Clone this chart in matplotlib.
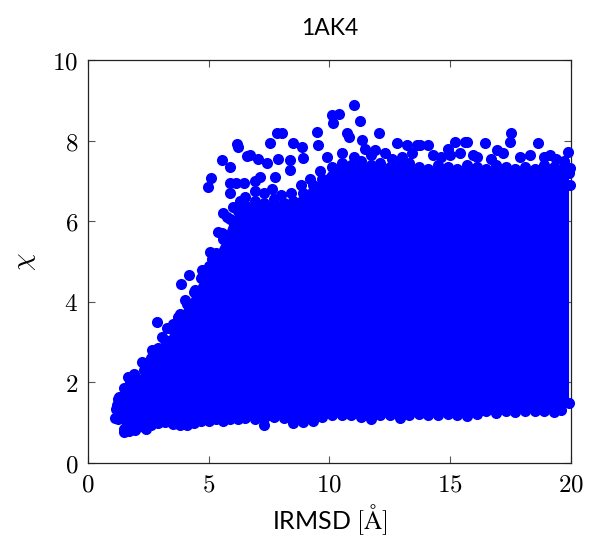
import matplotlib
matplotlib.use("Agg")
import matplotlib.pyplot as plt

plt.rcParams['mathtext.fontset'] = 'cm'
plt.rcParams['font.family'] = ['Lato', 'DejaVu Sans']

# Dense core of the decoy cloud: x positions with lower / upper extent of chi
env_x = [1.25, 1.5, 1.75, 2.0, 2.3, 2.6, 2.9, 3.2, 3.5, 3.8, 4.1, 4.4, 4.7, 5.0,
         5.3, 5.6, 5.9, 6.2, 6.5, 6.9, 7.3, 7.7, 8.1, 8.5, 8.9, 9.3, 9.7, 10.1,
         10.5, 10.9, 11.3, 11.7, 12.1, 12.5, 12.9, 13.3, 13.7, 14.1, 14.5, 14.9,
         15.3, 15.7, 16.1, 16.5, 16.9, 17.3, 17.7, 18.1, 18.5, 18.9, 19.3, 19.6, 19.9]
env_hi = [1.6, 1.85, 2.0, 2.1, 2.3, 2.6, 2.85, 3.05, 3.3, 3.7, 3.95, 4.25, 4.6, 4.9,
          5.2, 5.55, 6.05, 6.25, 6.4, 6.5, 6.45, 6.55, 6.45, 6.5, 6.7, 6.9, 7.05, 7.35,
          7.45, 7.4, 7.5, 7.4, 7.45, 7.35, 7.4, 7.45, 7.35, 7.3, 7.4, 7.35,
          7.3, 7.4, 7.35, 7.3, 7.4, 7.35, 7.3, 7.35, 7.3, 7.4, 7.35, 7.3, 7.2]
env_lo = [1.1, 0.85, 0.95, 0.88, 0.9, 0.95, 1.0, 1.02, 0.98, 0.94, 0.95, 1.0, 1.03, 1.05,
          1.08, 1.05, 1.08, 1.1, 1.12, 1.1, 0.95, 1.15, 1.12, 1.0, 1.02, 1.05, 1.15, 1.2,
          1.18, 1.2, 1.15, 1.1, 1.2, 1.18, 1.12, 1.2, 1.22, 1.2, 1.18, 1.22,
          1.2, 1.16, 1.22, 1.28, 1.25, 1.3, 1.27, 1.3, 1.28, 1.3, 1.27, 1.32, 1.5]

# Individual decoys lying outside the dense core
pts_x = [1.12, 1.5, 1.15, 1.7, 1.95, 2.4, 2.25, 2.84, 3.26, 3.74, 3.85, 4.19, 5.05, 5.37,
         4.96, 5.1, 5.54, 5.88, 6.16, 6.21, 6.6, 5.88, 6.13, 5.88, 7.05, 7.4, 7.12, 7.74,
         7.54, 7.81, 8.05, 8.5, 8.85, 8.36, 8.92, 8.36, 7.88, 6.71, 9.5, 9.54,
         10.09, 10.41, 10.13, 11.01, 11.26, 10.71, 10.79, 11.33, 11.47, 12.05, 11.88,
         12.78, 13.2, 13.61, 13.75, 14.09, 14.27, 14.92, 15.2, 15.61, 15.68, 15.95,
         16.44, 16.92, 17.52, 17.47, 18.65, 19.13, 19.89, 19.95, 19.95,
         9.9, 10.5, 11.0, 11.7, 12.3, 12.6, 13.0, 13.4, 14.6, 15.0, 15.4, 16.1, 16.7,
         17.2, 17.9, 18.3, 18.9, 19.4, 19.7,
         1.2, 1.3, 1.66, 1.9, 2.1, 2.5, 2.65, 3.06, 3.5, 4.0, 4.45, 4.72, 5.15, 5.55,
         5.6, 5.75, 6.0, 6.3, 6.5, 6.9, 7.3, 7.6, 8.0, 8.4, 8.8, 9.2, 9.6, 6.45, 6.9]
pts_y = [1.11, 0.78, 1.35, 0.8, 0.82, 0.85, 2.51, 3.49, 3.34, 3.63, 4.44, 4.67, 5.24, 5.74,
         6.84, 7.06, 7.52, 7.35, 7.91, 7.85, 7.62, 6.96, 6.94, 6.69, 7.54, 7.44, 7.09, 7.09,
         7.93, 8.2, 8.18, 7.93, 7.85, 7.52, 7.56, 7.27, 7.54, 7.64, 8.22, 7.89,
         8.64, 8.65, 8.43, 8.88, 8.49, 8.18, 8.1, 8.01, 7.8, 8.18, 7.77,
         7.93, 7.89, 7.89, 7.89, 7.89, 7.64, 7.8, 7.97, 7.97, 7.96, 7.64,
         7.93, 7.77, 8.18, 7.97, 7.93, 7.64, 7.72, 7.31, 6.9,
         7.6, 7.7, 7.6, 7.65, 7.7, 7.55, 7.6, 7.7, 7.6, 7.65, 7.7, 7.6, 7.55,
         7.7, 7.6, 7.65, 7.6, 7.55, 7.5,
         1.45, 1.65, 2.13, 2.2, 2.05, 2.45, 2.8, 3.13, 3.45, 4.04, 4.3, 4.79, 5.05, 5.7,
         6.2, 6.1, 6.35, 6.5, 6.6, 6.75, 6.7, 6.8, 6.65, 6.7, 6.9, 7.05, 7.25, 6.95, 7.0]

x_ticks = [0, 5, 10, 15, 20]
y_ticks = [0, 2, 4, 6, 8, 10]

blue = '#0000ff'
msize = 64
fig = plt.figure(figsize=(5.89, 5.40), dpi=100)
ax = fig.add_axes([0.1494, 0.1426, 0.8200, 0.7463])

ax.fill_between(env_x, env_lo, env_hi, color=blue, lw=0, zorder=2)
ax.scatter(env_x, env_hi, s=msize, color=blue, lw=0, zorder=3, clip_on=False)
ax.scatter(env_x, env_lo, s=msize, color=blue, lw=0, zorder=3, clip_on=False)
ax.scatter(pts_x, pts_y, s=msize, color=blue, lw=0, zorder=3, clip_on=False)

ax.set_xlim(0, 20)
ax.set_ylim(0, 10)
ax.set_xticks(x_ticks)
ax.set_yticks(y_ticks)
ax.set_xticklabels([f'${t}$' for t in x_ticks])
ax.set_yticklabels([f'${t}$' for t in y_ticks])
ax.tick_params(direction='in', top=True, right=True, length=5, width=0.8,
               color='#555555', labelsize=18, pad=7)
for sp in ax.spines.values():
    sp.set_linewidth(0.9)
    sp.set_color('#222222')

ax.set_title('1AK4', fontsize=16.5, pad=18)
ax.set_xlabel(r'IRMSD $[\mathrm{\AA}]$', fontsize=18, labelpad=5)
ax.set_ylabel(r'$\chi$', fontsize=20, labelpad=10)

fig.savefig('out.png', dpi=100)
